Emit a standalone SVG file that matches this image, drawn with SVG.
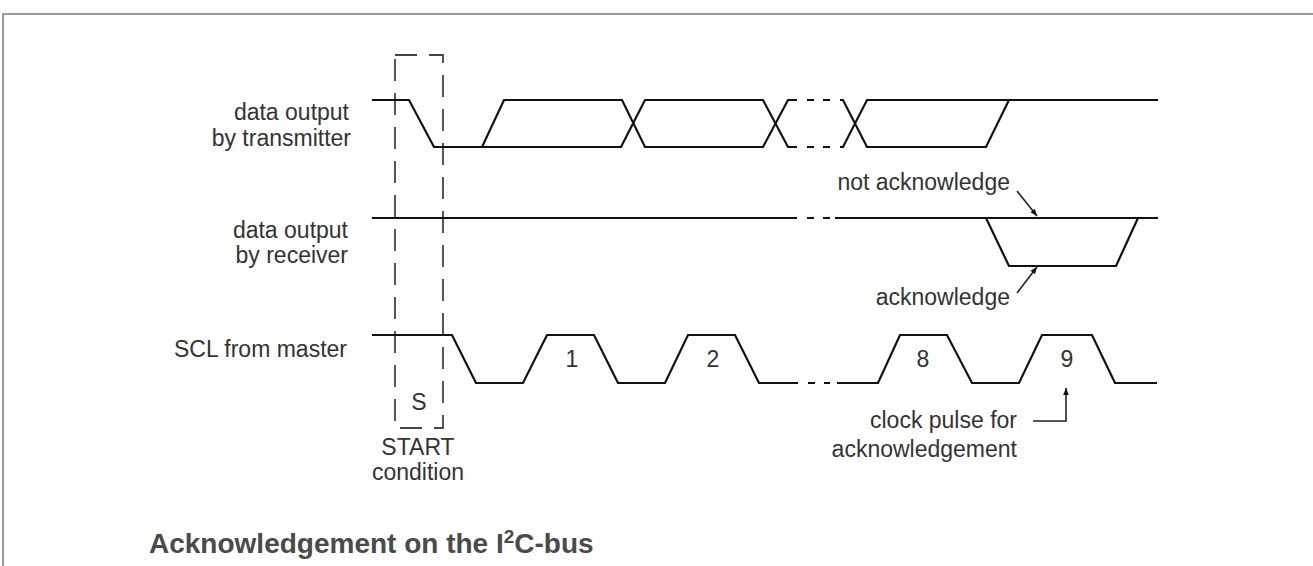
<svg xmlns="http://www.w3.org/2000/svg" width="1313" height="566" viewBox="0 0 1313 566">
<defs>
<style>
.sig{fill:none;stroke:#111;stroke-width:2.2;stroke-linejoin:miter}
.dot{fill:none;stroke:#111;stroke-width:2.2;stroke-dasharray:7 9}
.box{fill:none;stroke:#444;stroke-width:1.8;stroke-dasharray:22 12}
.lbl{font-family:"Liberation Sans",Arial,sans-serif;font-size:23px;fill:#333}
.ptr{fill:none;stroke:#222;stroke-width:1.6}
</style>
<marker id="ah" viewBox="0 0 10 10" refX="10" refY="5" markerWidth="7" markerHeight="7" markerUnits="userSpaceOnUse" orient="auto">
<path d="M0,1 L10,5 L0,9 Z" fill="#111"/>
</marker>
</defs>
<rect width="1313" height="566" fill="#fff"/>
<path d="M3,580 L3,14 L1320,14" fill="none" stroke="#9a9a9a" stroke-width="2"/>

<g id="start-box">
<rect class="box" x="395" y="55" width="48" height="373"/>
<text class="lbl" x="419" y="410" text-anchor="middle">S</text>
<text class="lbl" x="418" y="455" text-anchor="middle">START</text>
<text class="lbl" x="418" y="480" text-anchor="middle">condition</text>
</g>

<g id="transmitter">
<text class="lbl" x="349" y="120" text-anchor="end">data output</text>
<text class="lbl" x="351" y="146" text-anchor="end">by transmitter</text>
<path class="sig" d="M372,100 L409,100 L434,147 L621,147 L645,100 L763,100 L788,147 L797,147"/>
<path class="sig" d="M482,147 L504,100 L622,100 L645,147 L763,147 L788,100 L797,100"/>
<path class="dot" d="M807,100 L838,100 M807,147 L838,147"/>
<path class="sig" d="M840,100 L843,100 L867,147 L986,147 L1009,100"/>
<path class="sig" d="M840,147 L843,147 L867,100 L1158,100"/>
</g>

<g id="receiver">
<text class="lbl" x="348" y="238" text-anchor="end">data output</text>
<text class="lbl" x="348" y="263" text-anchor="end">by receiver</text>
<path class="sig" d="M372,218 L797,218"/>
<path class="dot" d="M807,218 L830,218"/>
<path class="sig" d="M835,218 L1158,218"/>
<path class="sig" d="M986,218 L1009,266 L1116,266 L1138,218"/>
</g>

<g id="scl">
<text class="lbl" x="347" y="357" text-anchor="end">SCL from master</text>
<path class="sig" d="M372,335 L452,335 L476,383 L523,383 L547,335 L594,335 L618,383 L665,383 L688,335 L735,335 L759,383 L798,383"/>
<path class="dot" d="M808,383 L830,383"/>
<path class="sig" d="M837,383 L878,383 L900,335 L947,335 L972,383 L1019,383 L1042,335 L1092,335 L1115,383 L1157,383"/>
<text class="lbl" x="572" y="367" text-anchor="middle">1</text>
<text class="lbl" x="713" y="367" text-anchor="middle">2</text>
<text class="lbl" x="923" y="367" text-anchor="middle">8</text>
<text class="lbl" x="1067" y="367" text-anchor="middle">9</text>
</g>

<g id="annotations">
<text class="lbl" x="1010" y="190" text-anchor="end">not acknowledge</text>
<text class="lbl" x="1010" y="305" text-anchor="end">acknowledge</text>
<text class="lbl" x="1017" y="428" text-anchor="end">clock pulse for</text>
<text class="lbl" x="1017" y="457" text-anchor="end">acknowledgement</text>
</g>

<g id="connectors">
<path class="ptr" d="M1017,191 L1037,216" marker-end="url(#ah)"/>
<path class="ptr" d="M1017,293 L1037,267" marker-end="url(#ah)"/>
<path class="ptr" d="M1033,421 L1066,421 L1066,388" marker-end="url(#ah)"/>
</g>

<g id="title">
<text x="149" y="553" font-family="'Liberation Sans',Arial,sans-serif" font-size="28" font-weight="bold" fill="#4a4a4a">Acknowledgement on the I<tspan dy="-10" font-size="19">2</tspan><tspan dy="10">C-bus</tspan></text>
</g>
</svg>
